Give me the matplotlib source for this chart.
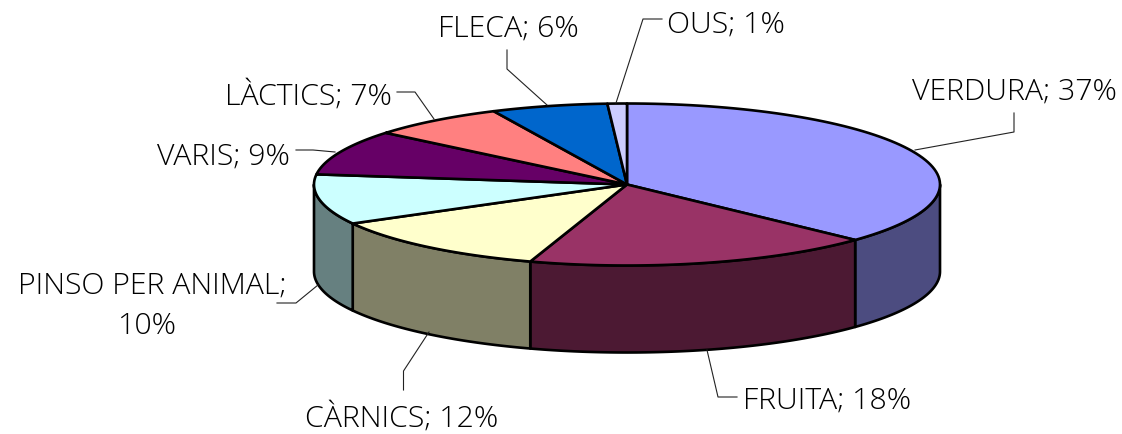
import numpy as np
import matplotlib
matplotlib.use("Agg")
import matplotlib.pyplot as plt

labels = ["VERDURA; 37%", "FRUITA; 18%", "CÀRNICS; 12%", "PINSO PER ANIMAL;\n10%",
          "VARIS; 9%", "LÀCTICS; 7%", "FLECA; 6%", "OUS; 1%"]
values = [37, 18, 12, 10, 9, 7, 6, 1]
top_colors = ["#9999FF", "#993366", "#FFFFCC", "#CCFFFF", "#660066", "#FF8080", "#0066CC", "#CCCCFF"]
side_colors = ["#4C4C80", "#4C1933", "#808066", "#668080", "#330033", "#804040", "#003366", "#666680"]

cx, cy = 627, 184.5
rx, ry = 313, 81
depth = 87

fig = plt.figure(figsize=(11.22, 4.34), dpi=100)
ax = fig.add_axes([0, 0, 1, 1])
ax.set_xlim(0, 1122)
ax.set_ylim(434, 0)
ax.axis("off")


def rim(a, b):
    t = np.radians(np.linspace(a, b, 80))
    return cx + rx * np.sin(t), cy - ry * np.cos(t)


ends = np.cumsum(values) / np.sum(values) * 360
starts = np.r_[0, ends[:-1]]

# side walls, only the front half shows
for a, b, c in zip(starts, ends, side_colors):
    a2, b2 = max(a, 90), min(b, 270)
    if a2 >= b2:
        continue
    x, y = rim(a2, b2)
    ax.fill(np.r_[x, x[::-1]], np.r_[y, y[::-1] + depth], fc=c, ec="black", lw=1.9, joinstyle="round")

# top slices
for a, b, c in zip(starts, ends, top_colors):
    x, y = rim(a, b)
    ax.fill(np.r_[cx, x], np.r_[cy, y], fc=c, ec="black", lw=1.9, joinstyle="round")

leaders = [
    [(915, 150), (1014, 132), (1014, 113)],
    [(707, 350), (718, 397), (737, 397)],
    [(429, 332), (403.5, 371), (403.5, 390)],
    [(318, 285), (296, 303), (277, 303)],
    [(335, 152), (313, 150), (296, 150)],
    [(434, 119), (415, 92), (397, 92)],
    [(547, 105), (507, 69), (507, 50)],
    [(616, 103), (643, 19), (662, 19)],
]
for pts in leaders:
    px, py = zip(*pts)
    ax.plot(px, py, color="#222222", lw=0.8)

font = dict(family="Open Sans", weight="light", fontsize=21.8, color="black")
text_pos = [(912, 100), (743, 409), (305, 427), None, (157, 165), (225, 105), (438, 37), (667, 33)]
for lab, pos in zip(labels, text_pos):
    if pos is None:
        first, second = lab.split("\n")
        ax.text(18, 294, first, ha="left", va="baseline", **font)
        ax.text(147, 334, second, ha="center", va="baseline", **font)
    else:
        ax.text(pos[0], pos[1], lab, ha="left", va="baseline", **font)

fig.savefig("out.png", dpi=100)
